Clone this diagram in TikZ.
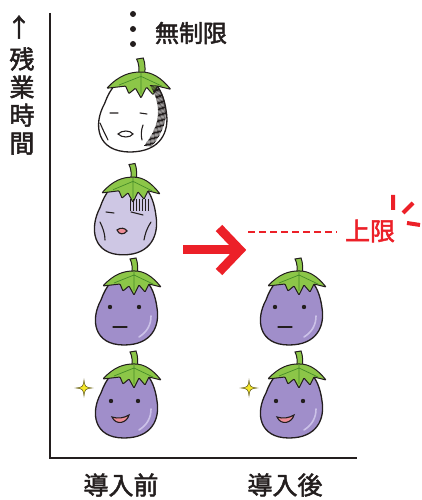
\documentclass[tikz,border=0pt]{standalone}
\usepackage{fontspec}
\newfontfamily\cjk[FakeBold=2]{Noto Sans CJK JP}
\usetikzlibrary{positioning}
\definecolor{ink}{RGB}{35,30,30}
\definecolor{eggpurple}{RGB}{160,142,202}
\definecolor{egglilac}{RGB}{206,199,228}
\definecolor{eggshine}{RGB}{204,194,232}
\definecolor{leaf}{RGB}{140,198,72}
\definecolor{vein}{RGB}{70,140,40}
\definecolor{alert}{RGB}{236,32,40}
\definecolor{spark}{RGB}{245,232,40}
\definecolor{mouth}{RGB}{238,140,150}
\tikzset{
	pics/eggplant/.style={code={
		\draw[ink,line width=1.3pt,fill=#1] (6,34) .. controls (-10,34) and (-18,22) .. (-23,8)
			.. controls (-34,-12) and (-30,-37) .. (0,-37)
			.. controls (28,-37) and (36,-18) .. (33,0)
			.. controls (31,16) and (24,34) .. (6,34) -- cycle;
		\draw[ink,line width=1pt,fill=leaf] (7,30) .. controls (9,41) and (8,45) .. (6,49) -- (12,50) .. controls (14,45) and (14,40) .. (13,30);
		\draw[ink,line width=1pt,fill=leaf,rounded corners=0.8pt] (-21,22) .. controls (-10,34) and (0,37) .. (10,37) .. controls (20,37) and (28,32) .. (37,21)
			-- (25,24) -- (21,16) -- (15,23) -- (10,13) -- (5,22) -- (-1,17) -- (-4,24) -- cycle;
		\draw[vein,line width=0.7pt] (10,36) -- (10,17) (10,33) -- (-10,25) (10,33) -- (29,24);
	}},
	face/.style={ink,line width=1.1pt,line cap=round},
	shine/.style={eggshine,line width=1.6pt,line cap=round},
	sparkle/.pic={
		\draw[ink!70!spark,line width=0.5pt,fill=spark] (0,8) .. controls (1,1) .. (8,0) .. controls (1,-1) .. (0,-8)
			.. controls (-1,-1) .. (-8,0) .. controls (-1,1) .. (0,8) -- cycle;
	},
	label/.style={ink,font=\cjk\fontsize{25}{28}\selectfont},
}
\begin{document}
\begin{tikzpicture}[x=1pt,y=1pt]
	\useasboundingbox (0,0) rectangle (422,500);
	\coordinate (top) at (50,487);
	\coordinate (origin) at (50,42);
	\coordinate (end) at (357,42);
	\draw[ink,line width=2pt] (top) -- (origin) -- (end);
	\node[label] (up) at (19,473) {↑};
	\node[label,align=center] (time) at (22,399) {残\\業\\時\\間};
	\node[label] (before) at (121,15) {導入前};
	\node[label] (after) at (285,15) {導入後};

	\coordinate (e1) at (130,388);
	\coordinate (e2) at (123,284);
	\coordinate (e3) at (124,192);
	\coordinate (e4) at (124,99);
	\coordinate (e5) at (289,192);
	\coordinate (e6) at (289,99);

	\foreach \y in {486,471,456}
		\fill[ink] (133,\y) circle (3);
	\node[label,font=\cjk\fontsize{24}{28}\selectfont] (unlimited) at (191,467) {無制限};

	\pic[xscale=1.1,yscale=1.08] at (e1) {eggplant=white};
	\begin{scope}[shift={(e1)}]
		\foreach \y in {-34,-32.8,...,27}
			\draw[ink,line width=0.8pt] ({36-0.012*\y*\y},\y) -- ++(-8,0.5);
		\draw[face] (-20,-1) -- (-12,-1) (10,-1) -- (17,-2);
		\draw[face,fill=white] (-12,-22) .. controls (-8,-18) and (0,-18) .. (3,-22) .. controls (0,-26) and (-8,-26) .. (-12,-22) -- cycle;
		\draw[face] (-30,-11) .. controls (-27,-18) and (-24,-24) .. (-22,-28) (13,-13) .. controls (11,-18) and (11,-24) .. (12,-28);
	\end{scope}

	\pic[yscale=1.05] at (e2) {eggplant=egglilac};
	\begin{scope}[shift={(e2)}]
		\foreach \x in {7,10,...,25}
			\draw[ink,line width=0.7pt] (\x,17) -- (\x,5);
		\draw[face] (-17,4) -- (-9,3) (8,4) -- (20,1);
		\draw[face,fill=mouth] (-6,-14) .. controls (-2,-11) and (2,-12) .. (4,-15) .. controls (1,-19) and (-4,-19) .. (-6,-14) -- cycle;
		\draw[face] (-23,-6) .. controls (-20,-12) and (-18,-18) .. (-18,-24) (28,-6) .. controls (24,-12) and (22,-18) .. (21,-24);
	\end{scope}

	\foreach \e in {e3,e5} {
		\pic at (\e) {eggplant=eggpurple};
		\begin{scope}[shift={(\e)}]
			\draw[shine] (27,-8) .. controls (27,-17) and (23,-24) .. (15,-29);
			\fill[ink] (-14,1) circle (2.2) (15,1) circle (2.2);
			\draw[face] (-11,-19) -- (3,-19);
		\end{scope}
	}
	\foreach \e in {e4,e6} {
		\pic at (\e) {eggplant=eggpurple};
		\begin{scope}[shift={(\e)}]
			\draw[shine] (27,-8) .. controls (27,-17) and (23,-24) .. (15,-29);
			\fill[ink] (-13,0) circle (2.2) (14,0) circle (2.2);
			\draw[face,fill=mouth] (-12,-16) .. controls (-6,-18) and (0,-17) .. (5,-14) .. controls (3,-22) and (-8,-25) .. (-12,-16) -- cycle;
		\end{scope}
	}
	\pic at (84,112) {sparkle};
	\pic at (249,112) {sparkle};

	\coordinate (from) at (183,250);
	\coordinate (to) at (240,250);
	\draw[alert,line width=9pt] (from) -- (to);
	\draw[alert,line width=9pt,line join=miter] (219,272) -- (to) -- (219,228);
	\coordinate (limitstart) at (248,268);
	\coordinate (limitend) at (337,268);
	\draw[alert,line width=1.6pt,dash pattern=on 7pt off 4pt] (limitstart) -- (limitend);
	\node[alert,font=\cjk\fontsize{25}{28}\selectfont] (limit) at (370,269) {上限};
	\draw[alert,line width=4pt] (393,305) -- (393,290) (403,287) -- (413,297) (407,277) -- (420,275);
\end{tikzpicture}
\end{document}
